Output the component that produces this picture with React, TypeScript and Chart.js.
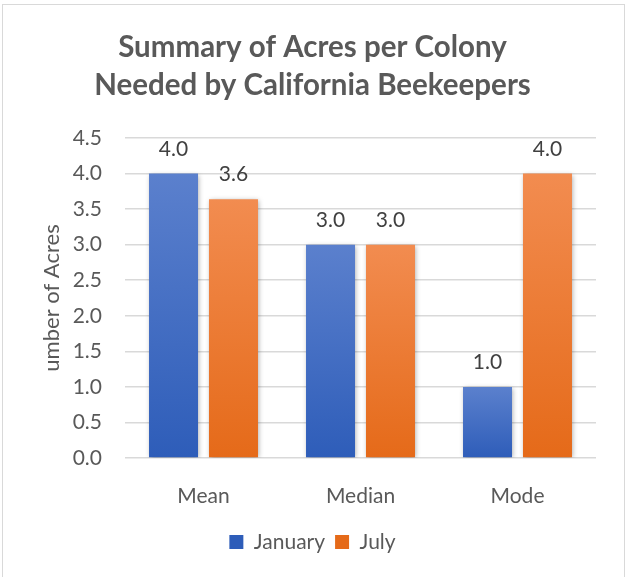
import React, { useEffect, useRef } from "react";
import { Chart, registerables } from "chart.js";

Chart.register(...registerables);

const categories = ["Mean", "Median", "Mode"];
const january = [4.0, 3.0, 1.0];
const july = [3.64, 3.0, 4.0];
const seriesNames = ["January", "July"];
const yTicksMin = 0;
const yTicksMax = 4.5;
const yTickStep = 0.5;

const FONT = "Lato";
const TEXT = "#595959";
const SMALL = 21;

const blue = { light: "#5B80CD", dark: "#2E5DB9", solid: "#4472C4" };
const orange = { light: "#F28C50", dark: "#E56A19", solid: "#ED7D31" };

function gradientFill(pal: { light: string; dark: string; solid: string }) {
  return (c: any) => {
    if (c.type !== "data" || c.dataIndex === undefined) return pal.solid;
    const chart = c.chart;
    if (!chart.chartArea || !chart.scales || !chart.scales.y) return pal.solid;
    const y = chart.scales.y;
    const top = y.getPixelForValue(c.raw as number);
    const bottom = y.getPixelForValue(0);
    if (!isFinite(top) || !isFinite(bottom) || top === bottom) return pal.solid;
    const g = chart.ctx.createLinearGradient(0, top, 0, bottom);
    g.addColorStop(0, pal.light);
    g.addColorStop(1, pal.dark);
    return g;
  };
}

const shadowPlugin = {
  id: "barShadow",
  beforeDatasetsDraw(chart: any) {
    const ctx = chart.ctx;
    ctx.save();
    ctx.shadowColor = "rgba(0,0,0,0.35)";
    ctx.shadowBlur = 5;
    ctx.shadowOffsetX = 1;
    ctx.shadowOffsetY = 1;
  },
  afterDatasetsDraw(chart: any) {
    chart.ctx.restore();
  },
};

const labelPlugin = {
  id: "valueLabels",
  afterDatasetsDraw(chart: any) {
    const ctx = chart.ctx;
    ctx.save();
    ctx.font = `${SMALL}px ${FONT}`;
    ctx.fillStyle = "#404040";
    ctx.textAlign = "center";
    ctx.textBaseline = "alphabetic";
    chart.data.datasets.forEach((ds: any, i: number) => {
      const meta = chart.getDatasetMeta(i);
      meta.data.forEach((el: any, j: number) => {
        const v = ds.data[j] as number;
        ctx.fillText(v.toFixed(1), el.x, el.y - 18);
      });
    });
    ctx.restore();
  },
};

export default function App() {
  const ref = useRef<HTMLCanvasElement | null>(null);

  useEffect(() => {
    if (!ref.current) return;
    const chart = new Chart(ref.current, {
      type: "bar",
      data: {
        labels: categories,
        datasets: [
          {
            label: seriesNames[0],
            data: january,
            backgroundColor: gradientFill(blue) as any,
            borderWidth: 0,
            categoryPercentage: 0.764,
            barPercentage: 0.817,
          },
          {
            label: seriesNames[1],
            data: july,
            backgroundColor: gradientFill(orange) as any,
            borderWidth: 0,
            categoryPercentage: 0.764,
            barPercentage: 0.817,
          },
        ],
      },
      options: {
        responsive: false,
        animation: false,
        events: [],
        devicePixelRatio: 1,
        layout: { padding: { top: 10, left: 29, right: 29, bottom: 14.5 } },
        plugins: {
          title: {
            display: true,
            text: ["Summary of Acres per Colony", "Needed by California Beekeepers"],
            color: TEXT,
            font: { family: FONT, size: 29.5, weight: "bold", lineHeight: 38 / 29.5 },
            padding: { top: 18, bottom: 34 },
          },
          legend: {
            position: "bottom",
            labels: {
              boxWidth: 14,
              boxHeight: 14,
              color: TEXT,
              font: { family: FONT, size: SMALL },
              padding: 10,
            },
          },
          tooltip: { enabled: false },
        },
        scales: {
          x: {
            grid: { display: false },
            border: { display: false },
            ticks: { color: TEXT, font: { family: FONT, size: SMALL }, padding: 17.4 },
            afterFit: (s: any) => {
              s.height = 63.5;
            },
          },
          y: {
            min: yTicksMin,
            max: yTicksMax,
            grid: { color: "#d9d9d9", lineWidth: 1.5, drawTicks: false },
            border: { display: false },
            ticks: {
              stepSize: yTickStep,
              color: TEXT,
              font: { family: FONT, size: SMALL },
              padding: 23,
              callback: (v: any) => Number(v).toFixed(1),
            },
            title: {
              display: true,
              text: "umber of Acres",
              color: TEXT,
              font: { family: FONT, size: 22 },
              padding: { top: 9.8, bottom: 0 },
            },
            afterFit: (s: any) => {
              s.width = 96;
            },
          },
        },
      },
      plugins: [shadowPlugin, labelPlugin],
    });
    return () => chart.destroy();
  }, []);

  return (
    <div style={{ position: "fixed", left: 0, top: 0, width: 625, height: 577, background: "#fff", overflow: "hidden" }}>
      <canvas ref={ref} width={625} height={577} style={{ position: "absolute", left: 0, top: 0 }} />
      <div
        style={{
          position: "absolute",
          left: 2,
          top: 4,
          width: 623,
          height: 600,
          boxSizing: "border-box",
          border: "1px solid #d9d9d9",
          pointerEvents: "none",
        }}
      />
    </div>
  );
}
